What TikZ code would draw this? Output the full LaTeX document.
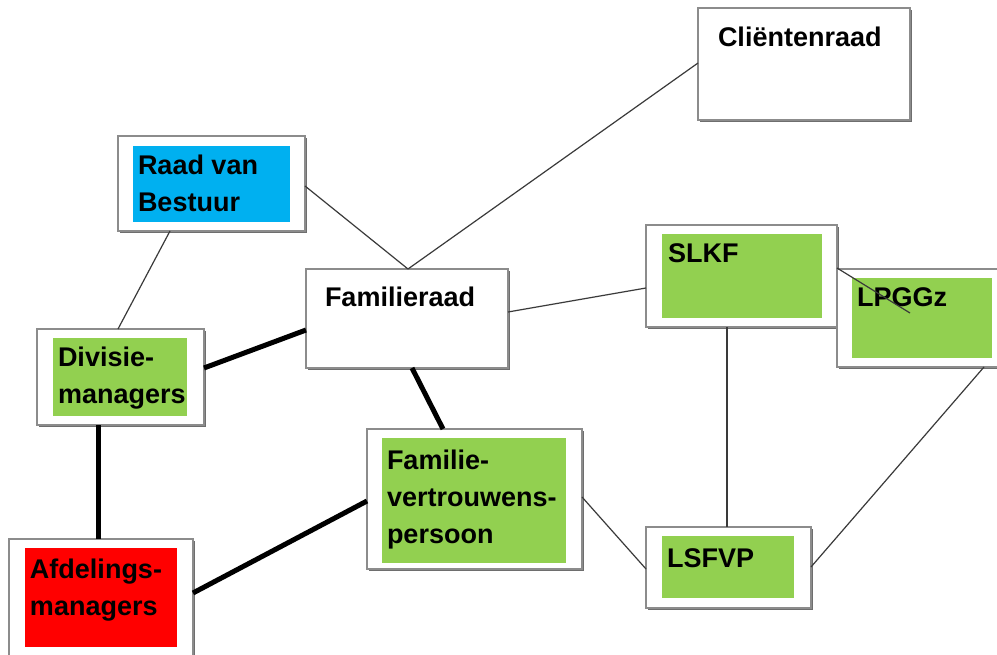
\documentclass[tikz,border=0pt]{standalone}
\usepackage{fontspec}
\setmainfont{Liberation Sans}
\usetikzlibrary{calc,shadows}
\definecolor{boardblue}{HTML}{00B0F0}
\definecolor{teamgreen}{HTML}{92D050}
\definecolor{alertred}{HTML}{FF0000}
\definecolor{framegray}{HTML}{8C8C8C}
\definecolor{shadowgray}{HTML}{6E6E6E}
\definecolor{linkgray}{HTML}{3A3A3A}
\tikzset{
  frame/.style={draw=framegray, line width=1.1pt, fill=white, inner sep=0pt, outer sep=0pt,
    anchor=north west,
    drop shadow={shadow xshift=2pt, shadow yshift=-2pt, fill=shadowgray, opacity=1}},
  panel/.style={draw=none, inner sep=0pt, outer sep=0pt, anchor=north west},
  % the base anchor of a multi-line label sits on its last line
  label/.style={inner sep=0pt, outer sep=0pt, anchor=base west, align=left,
    font=\fontsize{27}{37}\selectfont\bfseries},
  thinlink/.style={draw=linkgray, line width=1.2pt},
  thicklink/.style={draw=black, line width=5pt}
}
\begin{document}
\begin{tikzpicture}[x=1pt, y=-1pt]
\useasboundingbox (0,0) rectangle (997,655);
\clip (0,0) rectangle (997,655);
\fill[white] (0,0) rectangle (997,655);

% outer frames
\node[frame, minimum width=212pt, minimum height=112pt] (cli) at (698,8) {};
\node[frame, minimum width=187pt, minimum height=95pt] (rvb) at (118,136) {};
\node[frame, minimum width=202pt, minimum height=99pt] (fam) at (306,269) {};
\node[frame, minimum width=191pt, minimum height=102pt] (slkf) at (646,225) {};
\node[frame, minimum width=170pt, minimum height=98pt] (lpggz) at (837,269) {};
\node[frame, minimum width=167pt, minimum height=96pt] (div) at (37,329) {};
\node[frame, minimum width=215pt, minimum height=140pt] (fvp) at (367,429) {};
\node[frame, minimum width=165pt, minimum height=81pt] (lsfvp) at (646,527) {};
\node[frame, minimum width=184pt, minimum height=125pt] (afd) at (9,539) {};

% coloured panels inside the frames
\node[panel, fill=boardblue, minimum width=157pt, minimum height=76pt] (rvbin) at (133,146) {};
\node[panel, fill=teamgreen, minimum width=160pt, minimum height=84pt] (slkfin) at (662,234) {};
\node[panel, fill=teamgreen, minimum width=140pt, minimum height=80pt] (lpggzin) at (852,278) {};
\node[panel, fill=teamgreen, minimum width=134pt, minimum height=78pt] (divin) at (53,338) {};
\node[panel, fill=teamgreen, minimum width=184pt, minimum height=125pt] (fvpin) at (382,438) {};
\node[panel, fill=teamgreen, minimum width=132pt, minimum height=62pt] (lsfvpin) at (662,536) {};
\node[panel, fill=alertred, minimum width=152pt, minimum height=99pt] (afdin) at (25,548) {};

% thin connectors
\draw[thinlink] ($(rvb.south west)+(52,0)$) -- ($(div.north west)+(81,0)$);
\draw[thinlink] ($(rvb.north east)+(0,50)$) -- ($(fam.north west)+(102,0)$);
\draw[thinlink] ($(cli.north west)+(0,55)$) -- ($(fam.north west)+(102,0)$);
\draw[thinlink] ($(fam.north east)+(0,43)$) -- ($(slkf.north west)+(0,63)$);
\draw[thinlink] ($(slkf.south west)+(81,0)$) -- ($(lsfvp.north west)+(81,0)$);
\draw[thinlink] ($(lpggz.south west)+(147,0)$) -- ($(lsfvp.north east)+(0,40)$);
\draw[thinlink] ($(fvp.north east)+(0,68)$) -- ($(lsfvp.north west)+(0,42)$);

% thick connectors
\draw[thicklink] ($(div.north east)+(0,39)$) -- ($(fam.north west)+(0,61)$);
\draw[thicklink] ($(fam.south west)+(106,0)$) -- ($(fvp.north west)+(76,0)$);
\draw[thicklink] ($(div.south west)+(61,0)$) -- ($(afd.north west)+(89,0)$);
\draw[thicklink] ($(afd.north east)+(0,54)$) -- ($(fvp.north west)+(0,72)$);

% labels
\node[label] (clitxt) at (718,47) {Cliëntenraad};
\node[label] (rvbtxt) at (138,212) {Raad van\\Bestuur};
\node[label] (famtxt) at (325,307) {Familieraad};
\node[label] (slkftxt) at (668,263) {SLKF};
\node[label] (lpggztxt) at (857,307) {LPGGz};
\node[label] (divtxt) at (58,403) {Divisie-\\managers};
\node[label] (fvptxt) at (387,543) {Familie-\\vertrouwens-\\persoon};
\node[label] (lsfvptxt) at (667,567) {LSFVP};
\node[label] (afdtxt) at (30,615) {Afdelings-\\managers};

% this link runs across the LPGGz label
\draw[thinlink] ($(slkf.north east)+(0,43)$) -- ($(lpggz.north west)+(73,44)$);
\end{tikzpicture}
\end{document}
